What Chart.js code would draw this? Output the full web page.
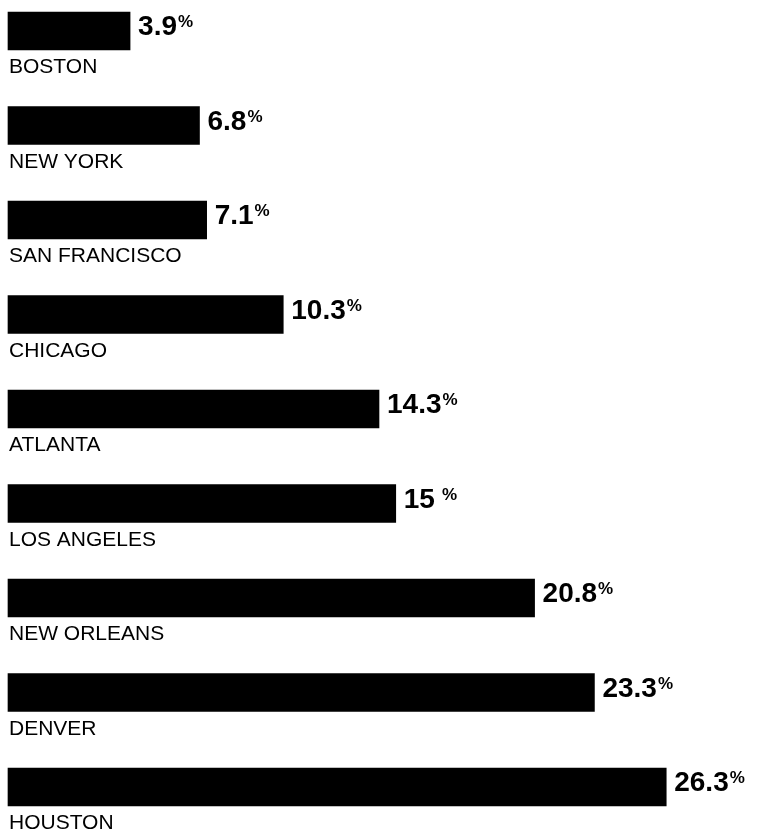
<!DOCTYPE html>
<html>
<head>
<meta charset="utf-8">
<title>Rate by city</title>
<script src="https://cdn.jsdelivr.net/npm/chart.js@4/dist/chart.umd.min.js"></script>
<style>
  body { margin: 0; background: #fff; }
  canvas { display: block; }
</style>
</head>
<body>
<canvas id="cityChart" width="758" height="829"></canvas>
<script>
const cities = [
  "BOSTON",
  "NEW YORK",
  "SAN FRANCISCO",
  "CHICAGO",
  "ATLANTA",
  "LOS ANGELES",
  "NEW ORLEANS",
  "DENVER",
  "HOUSTON",
];
const rates = [3.9, 6.8, 7.1, 10.3, 14.3, 15, 20.8, 23.3, 26.3];

const FONT = "'Liberation Sans', Arial, Helvetica, sans-serif";

// city name under each bar, value with a small raised % sign to the right
const barLabels = {
  id: "barLabels",
  afterDatasetsDraw(chart) {
    const ctx = chart.ctx;
    const meta = chart.getDatasetMeta(0);
    ctx.save();
    ctx.fillStyle = "#000";
    ctx.textAlign = "left";
    ctx.textBaseline = "alphabetic";
    meta.data.forEach((bar, i) => {
      ctx.font = `21px ${FONT}`;
      ctx.fillText(cities[i], 9, bar.y + 42);

      const txt = String(rates[i]);
      const x = bar.x + 8;
      const y = bar.y + 4;
      ctx.font = `bold 28px ${FONT}`;
      ctx.fillText(txt, x, y);
      const w = ctx.measureText(txt).width;
      const gap = Number.isInteger(rates[i]) ? 7 : 1;
      ctx.font = `bold 17px ${FONT}`;
      ctx.fillText("%", x + w + gap, y - 8);
    });
    ctx.restore();
  },
};

const ctx = document.getElementById("cityChart");
new Chart(ctx, {
  type: "bar",
  data: {
    labels: cities,
    datasets: [
      {
        data: rates,
        base: -1.2,
        backgroundColor: "#000",
        borderWidth: 0,
        barThickness: 38,
        clip: false,
      },
    ],
  },
  options: {
    indexAxis: "y",
    responsive: false,
    animation: false,
    layout: {
      padding: { top: 31, bottom: 42, left: 8, right: 8 },
    },
    scales: {
      x: {
        type: "linear",
        min: -1.2,
        max: 29.8,
        display: false,
      },
      y: {
        offset: false,
        display: false,
      },
    },
    plugins: {
      legend: { display: false },
      tooltip: { enabled: false },
    },
  },
  plugins: [barLabels],
});
</script>
</body>
</html>
